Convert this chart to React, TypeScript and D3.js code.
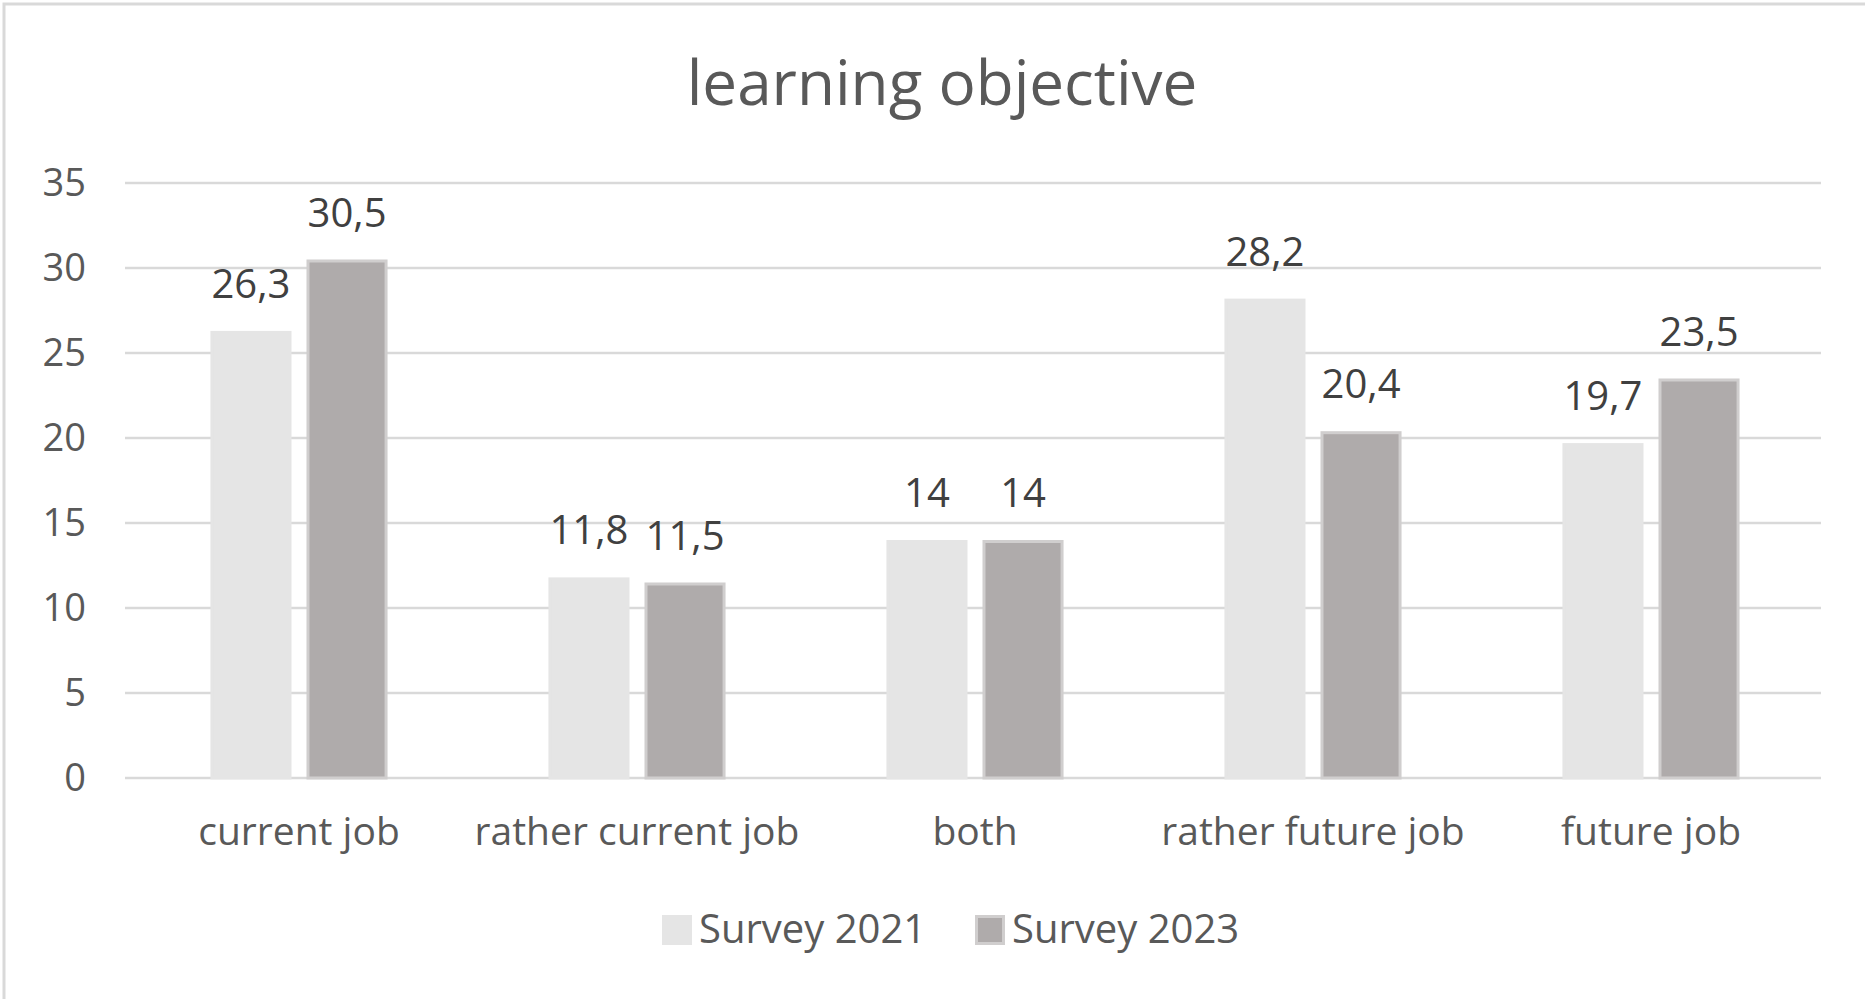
import * as d3 from "d3"
import { useRef, useEffect } from "react"

const categories = ["current job", "rather current job", "both", "rather future job", "future job"]
const seriesNames = ["Survey 2021", "Survey 2023"]
const survey2021 = [26.3, 11.8, 14, 28.2, 19.7]
const survey2023 = [30.5, 11.5, 14, 20.4, 23.5]
const yTicks = [0, 5, 10, 15, 20, 25, 30, 35]

const fills = ["#e5e5e5", "#afabab"]
const strokes = ["#e5e5e5", "#d0cece"]

const W = 1865
const H = 999

export default function App() {
  const svgRef = useRef<SVGSVGElement>(null)

  useEffect(() => {
    if (!svgRef.current) return
    document.body.style.margin = "0"

    const svg = d3.select(svgRef.current)
    svg.selectAll("*").remove()
    const font = "'Open Sans', sans-serif"

    // chart frame (only top/left edges visible)
    svg.append("rect")
      .attr("x", 4).attr("y", 4)
      .attr("width", W + 40).attr("height", H + 40)
      .attr("fill", "white")
      .attr("stroke", "#d9d9d9")
      .attr("stroke-width", 3)

    const left = 125
    const right = 1821
    const y = d3.scaleLinear().domain([0, 35]).range([778, 183])
    const x0 = d3.scaleBand<string>().domain(categories).range([130, 1820])
    const groupW = x0.bandwidth() * 0.524
    const x1 = d3.scaleBand<string>().domain(seriesNames).range([0, groupW]).paddingInner(0.156)

    // title
    svg.append("text")
      .attr("x", 942).attr("y", 105)
      .attr("text-anchor", "middle")
      .attr("fill", "#595959")
      .style("font-family", font)
      .style("font-size", "62px")
      .text("learning objective")

    // gridlines
    svg.append("g")
      .selectAll("line")
      .data(yTicks)
      .enter()
      .append("line")
      .attr("x1", left).attr("x2", right)
      .attr("y1", (d) => y(d)).attr("y2", (d) => y(d))
      .attr("stroke", "#d9d9d9")
      .attr("stroke-width", 2.5)

    // y tick labels
    svg.append("g")
      .selectAll("text")
      .data(yTicks)
      .enter()
      .append("text")
      .attr("x", 86)
      .attr("y", (d) => y(d) + 13)
      .attr("text-anchor", "end")
      .attr("fill", "#595959")
      .style("font-family", font)
      .style("font-size", "38px")
      .text((d) => d)

    const series = [survey2021, survey2023]

    series.forEach((vals, si) => {
      const g = svg.append("g")
      const bx = (i: number) => x0(categories[i])! + (x0.bandwidth() - groupW) / 2 + x1(seriesNames[si])!

      g.selectAll("rect")
        .data(vals)
        .enter()
        .append("rect")
        .attr("x", (_, i) => bx(i) + 1.5)
        .attr("y", (d) => y(d) + 1.5)
        .attr("width", x1.bandwidth() - 3)
        .attr("height", (d) => y(0) - y(d) - 1.5)
        .attr("fill", fills[si])
        .attr("stroke", strokes[si])
        .attr("stroke-width", 3)

      g.selectAll("text")
        .data(vals)
        .enter()
        .append("text")
        .attr("x", (_, i) => bx(i) + x1.bandwidth() / 2)
        .attr("y", (d) => y(d) - 33)
        .attr("text-anchor", "middle")
        .attr("fill", "#404040")
        .style("font-family", font)
        .style("font-size", "40px")
        .text((d) => String(d).replace(".", ","))
    })

    // category labels
    svg.append("g")
      .selectAll("text")
      .data(categories)
      .enter()
      .append("text")
      .attr("x", (d) => x0(d)! + x0.bandwidth() / 2)
      .attr("y", 845)
      .attr("text-anchor", "middle")
      .attr("fill", "#595959")
      .style("font-family", font)
      .style("font-size", "39px")
      .text((d) => d)

    // legend
    const legendX = [662, 975]
    seriesNames.forEach((name, i) => {
      svg.append("rect")
        .attr("x", legendX[i] + 1.5).attr("y", 916.5)
        .attr("width", 27).attr("height", 27)
        .attr("fill", fills[i])
        .attr("stroke", strokes[i])
        .attr("stroke-width", 3)
      svg.append("text")
        .attr("x", legendX[i] + 37).attr("y", 943)
        .attr("fill", "#595959")
        .style("font-family", font)
        .style("font-size", "40px")
        .text(name)
    })
  }, [])

  return <svg ref={svgRef} width={W} height={H} style={{ display: "block" }}></svg>
}
